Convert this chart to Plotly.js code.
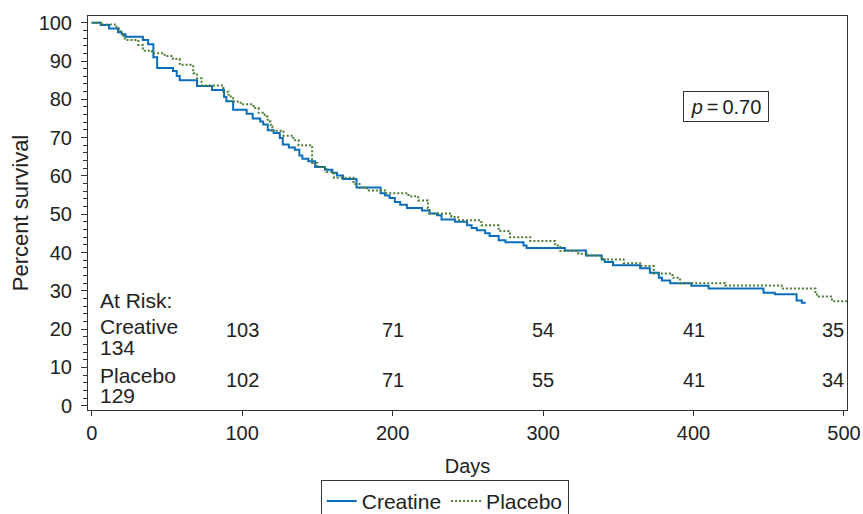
<!DOCTYPE html>
<html>
<head>
<meta charset="utf-8">
<script src="https://cdn.plot.ly/plotly-3.0.1.min.js"></script>
<style>html,body{margin:0;padding:0;background:#fff;}#chart{width:863px;height:514px;}</style>
</head>
<body>
<div id="chart"></div>
<script>
// Kaplan-Meier step data (days, percent surviving after the step)
const creatineDays = [0, 6, 11.5, 17.5, 20, 22.5, 34, 37.5, 41, 43.5, 54, 56.5, 58.5, 70, 80, 88, 89.5, 94, 103, 107, 112, 114, 117, 121, 125, 127, 131, 135, 138, 140, 144, 148.5, 155, 160, 163, 167, 176, 192, 195, 198, 201.5, 205, 209.5, 219.5, 224.5, 229.5, 232.5, 241.5, 249.5, 252.5, 256, 261.5, 264.5, 270.5, 275, 287, 289, 314.5, 328.5, 339, 341, 346.5, 364.5, 371, 377, 379, 384.5, 398.5, 410, 446.5, 454, 468.5, 472, 474.5];
const creatineSurv = [100, 99.4, 98.5, 97.5, 97, 96.3, 95.5, 94.4, 91, 88.2, 87.4, 86.1, 85, 83.5, 82.4, 80.6, 79.5, 77.3, 76.2, 75.0, 74.2, 73.4, 71.9, 71.2, 69.9, 68.2, 67.4, 66.8, 65.3, 64.5, 63.8, 62.3, 61.6, 60.8, 60.1, 59.2, 57.0, 55.5, 54.9, 54.2, 53.2, 52.5, 51.6, 51.0, 50.2, 49.7, 48.6, 48.0, 47.1, 46.4, 45.8, 45.0, 44.3, 43.2, 42.7, 41.8, 41.2, 40.5, 39.2, 38.2, 37.5, 36.7, 35.9, 34.7, 33.4, 32.7, 32.0, 31.3, 30.6, 29.5, 29.1, 27.5, 26.9, 26.9];

const placeboDays = [0, 6, 16.5, 19, 21, 22, 31, 34, 40, 48.5, 54, 58.5, 67.5, 70, 73, 87.5, 91, 94, 99, 107.5, 111, 115, 117, 119, 120, 127.5, 134, 137.5, 146.5, 150, 156, 161, 174, 178, 183, 195, 210.5, 217, 223.5, 224.5, 239, 243.5, 259, 270.5, 278, 291.5, 308, 311.5, 323.5, 329, 339, 353.5, 364.5, 373.5, 386, 391, 421, 458.5, 481, 482, 492, 502];
const placeboSurv = [100, 99.5, 98.5, 97.2, 96.6, 95.5, 94.2, 92.7, 92.0, 91.3, 90.5, 89.0, 86.8, 85.5, 83.6, 82.0, 80.7, 79.4, 78.7, 77.7, 76.5, 75.5, 74.2, 72.9, 71.8, 70.5, 69.3, 68.0, 63.4, 62.3, 61.0, 59.5, 57.9, 56.9, 56.2, 55.5, 54.7, 53.6, 51.6, 50.2, 49.3, 48.4, 47.1, 45.6, 44.0, 43.0, 41.8, 40.4, 39.7, 39.2, 38.2, 37.2, 36.5, 34.5, 33.4, 32.0, 31.4, 30.6, 29.7, 28.5, 27.3, 27.3];

// Numbers at risk
const riskDays = [100, 200, 300, 400, 500];
const riskCreatine = [103, 71, 54, 41, 35];
const riskPlacebo = [102, 71, 55, 41, 34];
const riskLabels = ["At Risk:", "Creative", "134", "Placebo", "129"];
const pLabel = "<i>p</i>\u2009=\u20090.70";

const FONT = "Liberation Sans, Arial, Helvetica, sans-serif";
const TXT = "#222";
const FS = 20;
const FT = 21;

const traces = [
  {x: creatineDays, y: creatineSurv, name: "Creatine", type: "scatter", mode: "lines",
   line: {shape: "hv", color: "#0a6ebd", width: 2}},
  {x: placeboDays, y: placeboSurv, name: "Placebo", type: "scatter", mode: "lines",
   line: {shape: "hv", color: "#4a7c34", width: 2, dash: "2px,2px"}}
];

const ann = [];
const leftY = [27.5, 20.6, 15.2, 8.0, 2.6];
riskLabels.forEach((t, i) => ann.push({x: 4, y: leftY[i], xref: "x", yref: "y", text: t,
  showarrow: false, xanchor: "left", yanchor: "middle", font: {family: FONT, size: FT, color: TXT}}));
riskDays.forEach((d, i) => {
  const last = i === riskDays.length - 1;
  ann.push({x: last ? 501 : d, y: 19.8, xref: "x", yref: "y", text: String(riskCreatine[i]), showarrow: false,
    xanchor: last ? "right" : "center", yanchor: "middle", font: {family: FONT, size: FS, color: TXT}});
  ann.push({x: last ? 501 : d, y: 6.8, xref: "x", yref: "y", text: String(riskPlacebo[i]), showarrow: false,
    xanchor: last ? "right" : "center", yanchor: "middle", font: {family: FONT, size: FS, color: TXT}});
});
ann.push({x: 421.5, y: 78, xref: "x", yref: "y", text: pLabel, showarrow: false,
  xanchor: "center", yanchor: "middle", bordercolor: "#333", borderwidth: 1, borderpad: 2,
  width: 80, height: 25, bgcolor: "#fff", font: {family: FONT, size: FS, color: TXT}});

const layout = {
  width: 863, height: 514,
  margin: {l: 88, r: 16, t: 16, b: 104, autoexpand: false},
  paper_bgcolor: "#fff", plot_bgcolor: "#fff",
  font: {family: FONT, size: FS, color: TXT},
  showlegend: true,
  legend: {orientation: "h", x: 0.47, xanchor: "center", y: -0.177, yanchor: "top",
    bordercolor: "#333", borderwidth: 1, bgcolor: "#fff", itemwidth: 30,
    font: {family: FONT, size: FT, color: TXT}},
  xaxis: {range: [-2.46, 502], tick0: 0, dtick: 100, showgrid: false, zeroline: false,
    showline: true, mirror: true, linecolor: "#333", linewidth: 1,
    ticks: "outside", ticklen: 5, tickcolor: "#333", ticklabelstandoff: 0,
    tickfont: {family: FONT, size: FS, color: TXT},
    title: {text: "Days", standoff: 15, font: {family: FONT, size: FS, color: TXT}}},
  yaxis: {range: [-1.12, 101.75], tick0: 0, dtick: 10, showgrid: false, zeroline: false,
    showline: true, mirror: true, linecolor: "#333", linewidth: 1,
    ticks: "outside", ticklen: 6, tickcolor: "#333", ticklabelstandoff: 5,
    minor: {dtick: 2, ticks: "outside", ticklen: 4, tickcolor: "#333", showgrid: false},
    tickfont: {family: FONT, size: FS, color: TXT},
    title: {text: "Percent survival", standoff: 3, font: {family: FONT, size: 22, color: TXT}}},
  annotations: ann
};

Plotly.newPlot("chart", traces, layout, {displayModeBar: false, staticPlot: true});
</script>
</body>
</html>
